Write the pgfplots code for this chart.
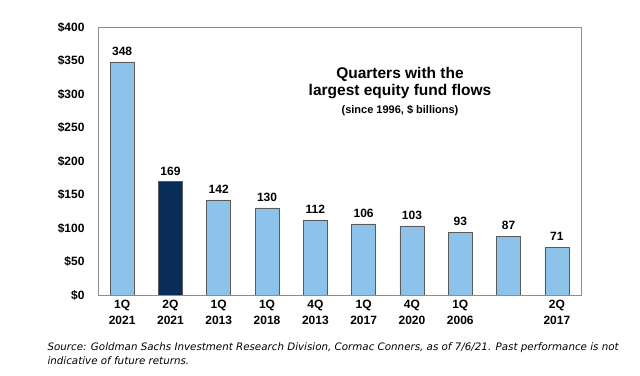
\documentclass[border=0pt]{standalone}
\usepackage{pgfplots}
\pgfplotsset{compat=1.18}
\usepackage{fontspec}
\setmainfont{Liberation Sans}
\newfontfamily\srcfont{DejaVu Sans}
\definecolor{lblue}{RGB}{141,195,235}
\definecolor{navy}{RGB}{10,44,88}
\definecolor{edge}{RGB}{90,90,90}
\begin{document}
\begin{tikzpicture}[x=1pt,y=1pt]
\path[use as bounding box,fill=white] (0,0) rectangle (640,375);
\begin{axis}[
  at={(98pt,80pt)}, anchor=south west,
  scale only axis, width=483pt, height=268pt,
  ymin=0, ymax=400, xmin=-0.5, xmax=9.5,
  ytick={0,50,...,400},
  yticklabel={\textbf{\$\pgfmathprintnumber{\tick}}},
  /pgf/number format/assume math mode=true,
  yticklabel style={font=\fontsize{12}{14}\selectfont\bfseries, xshift=-10pt},
  xtick={0,...,9},
  xticklabels={{1Q\\2021},{2Q\\2021},{1Q\\2013},{1Q\\2018},{4Q\\2013},{1Q\\2017},{4Q\\2020},{1Q\\2006},{},{2Q\\2017}},
  xticklabel style={font=\fontsize{12}{16}\selectfont\bfseries, align=center, yshift=-2pt},
  major tick length=0pt,
  axis line style={draw=gray!90},
  bar width=24pt,
  nodes near coords,
  every node near coord/.append style={font=\fontsize{12}{14}\selectfont\bfseries, black, yshift=3pt},
]
\addplot[ybar, fill=lblue, draw=edge, line width=0.6pt] coordinates {(0,348) (2,142) (3,130) (4,112) (5,106) (6,103) (7,93) (8,87) (9,71)};
\addplot[ybar, fill=navy, draw=edge, line width=0.6pt] coordinates {(1,169)};
\end{axis}
\node[font=\fontsize{15.5}{17}\selectfont\bfseries, align=center] at (400,291.5) {Quarters with the\\largest equity fund flows};
\node[font=\fontsize{11}{13}\selectfont\bfseries] at (400,264) {(since 1996, \$ billions)};
\node[font=\srcfont\itshape\fontsize{10.3}{14.5}\selectfont, align=left, anchor=north west] at (44,36) {Source: Goldman Sachs Investment Research Division, Cormac Conners, as of 7/6/21. Past performance is not\\indicative of future returns.};
\end{tikzpicture}
\end{document}
